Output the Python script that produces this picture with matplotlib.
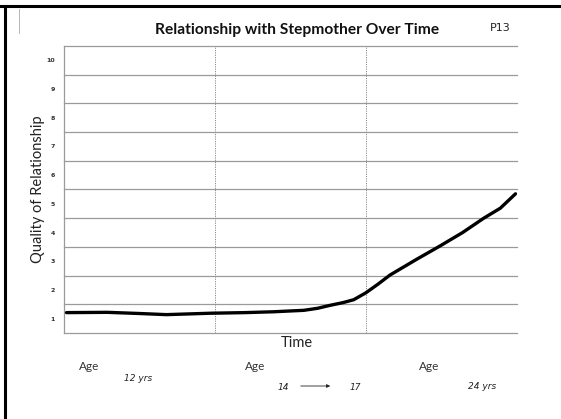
import matplotlib
matplotlib.use("Agg")
import matplotlib.pyplot as plt
from matplotlib.lines import Line2D
from matplotlib.patches import FancyArrowPatch

# Data (time in sections: 0-1 = age 12, 1-2 = age 14->17, 2-3 = age 24)
time = [0.02, 0.29, 0.50, 0.68, 0.98, 1.20, 1.39, 1.59, 1.68, 1.76, 1.85, 1.92, 2.00, 2.08, 2.16, 2.25, 2.34, 2.49, 2.64, 2.78, 2.89, 2.99]
quality = [1.21, 1.22, 1.18, 1.14, 1.19, 1.21, 1.24, 1.29, 1.36, 1.46, 1.56, 1.66, 1.90, 2.20, 2.52, 2.80, 3.08, 3.53, 4.00, 4.50, 4.85, 5.35]
y_ticks = [1, 2, 3, 4, 5, 6, 7, 8, 9, 10]
section_bounds = [1, 2]
age_labels = ["Age", "Age", "Age"]
age_notes = ["12 yrs", "14", "17", "24 yrs"]

W, H = 561, 419
fig = plt.figure(figsize=(W / 100, H / 100), dpi=100)
fig.patch.set_facecolor("white")

def fx(px):
    return px / W

def fy(py):
    return 1 - py / H

left, right, top, bottom = 63.5, 517, 46, 333
ax = fig.add_axes([fx(left), fy(bottom), (right - left) / W, (bottom - top) / H])
ax.set_xlim(0, 3)
ax.set_ylim(0.5, 10.5)

gcol = "#9a9a9a"
for v in [i + 0.5 for i in range(0, 11)]:
    ax.axhline(v, color=gcol, lw=0.9, zorder=1, clip_on=False)
for b in section_bounds:
    ax.axvline(b, color="#8a8a8a", lw=0.7, ls=(0, (1.2, 1.2)), zorder=1)

ax.plot(time, quality, color="black", lw=2.4, solid_capstyle="round",
        solid_joinstyle="round", zorder=3)

for s in ["top", "right", "bottom"]:
    ax.spines[s].set_visible(False)
ax.spines["left"].set_color(gcol)
ax.spines["left"].set_linewidth(0.9)

ax.set_xticks([])
ax.set_yticks(y_ticks)
ax.set_yticklabels([str(t) for t in y_ticks], fontsize=4.5, fontweight="bold", color="#333333")
ax.tick_params(axis="y", length=0, pad=6)

font = "Lato"
fig.text(fx(38), fy(189.5), "Quality of Relationship", fontsize=10.5, family=font,
         color="#222222", rotation=90, ha="center", va="center")

fig.text(fx(297), fy(30), "Relationship with Stepmother Over Time", fontsize=11.2,
         fontweight="bold", family=font, ha="center", va="center", color="#111111")
fig.text(fx(500), fy(28), "P13", fontsize=8, ha="center", va="center", color="#222222")
fig.text(fx(297), fy(343), "Time", fontsize=10.5, family=font, ha="center", va="center", color="#222222")

for xp, lab in zip([89, 255, 429], age_labels):
    fig.text(fx(xp), fy(366), lab, fontsize=8.5, family=font, ha="center", va="center", color="#333333")

hand = dict(fontsize=6.5, ha="center", va="center", color="#222222", style="italic")
fig.text(fx(138), fy(378), age_notes[0], **hand)
fig.text(fx(283), fy(387), age_notes[1], **hand)
fig.text(fx(355), fy(387), age_notes[2], **hand)
fig.text(fx(482), fy(386), age_notes[3], **hand)
fig.add_artist(FancyArrowPatch((fx(298), fy(386)), (fx(333), fy(386)),
               transform=fig.transFigure, arrowstyle="-|>", mutation_scale=5,
               lw=0.6, color="#222222"))

# scan borders
fig.add_artist(Line2D([0, 1], [fy(6), fy(6)], transform=fig.transFigure, color="black", lw=2.2))
fig.add_artist(Line2D([fx(5), fx(5)], [0, fy(6)], transform=fig.transFigure, color="black", lw=2.2))
fig.add_artist(Line2D([fx(19), fx(19)], [fy(9), fy(33)], transform=fig.transFigure, color="#aaaaaa", lw=0.6))

fig.savefig("out.png", dpi=100, facecolor="white")
